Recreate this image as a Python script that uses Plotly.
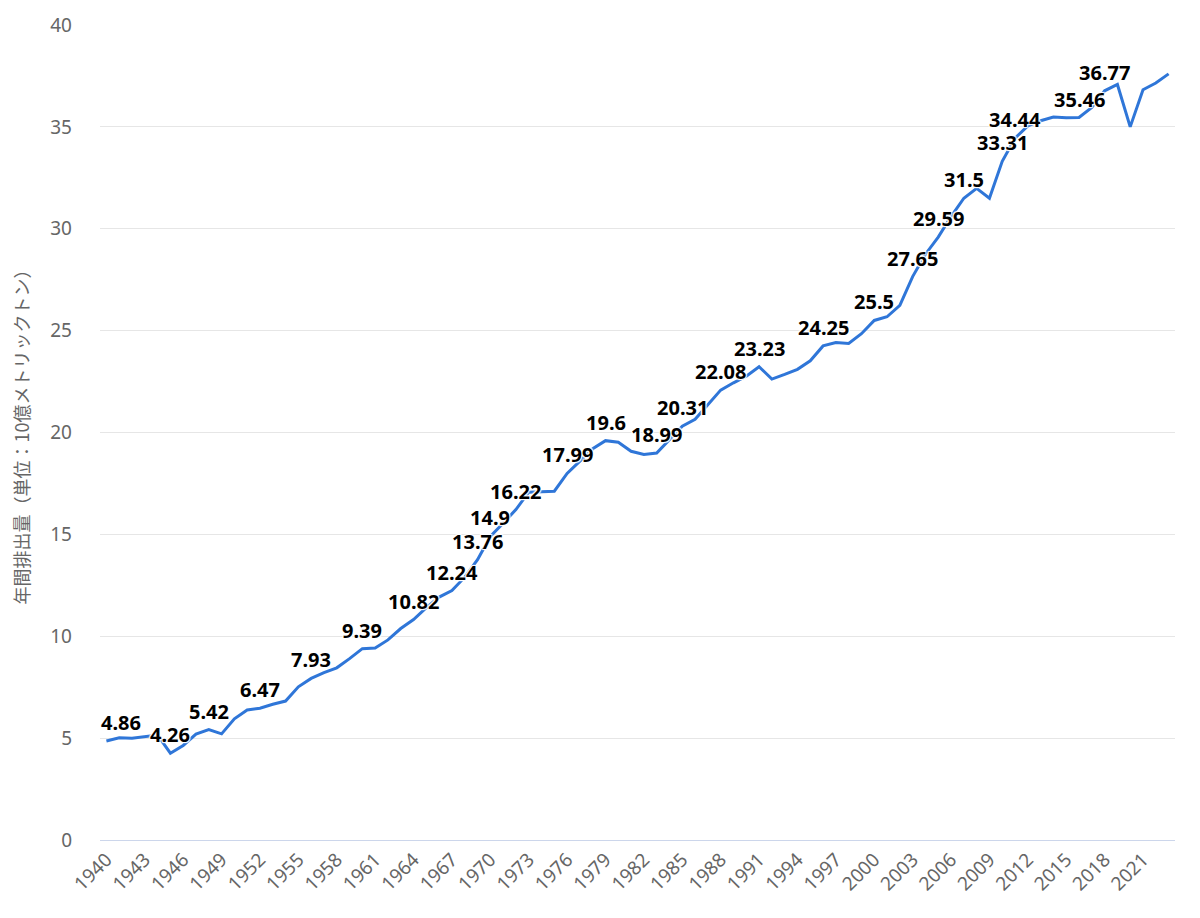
import plotly.graph_objects as go

# annual emissions, billion metric tonnes
YEARS = list(range(1940, 2024))
EMISSIONS = [
    4.86, 5.02, 5.00, 5.07, 5.15, 4.26, 4.64, 5.20, 5.42, 5.21,   # 1940-1949
    5.95, 6.38, 6.47, 6.66, 6.82, 7.52, 7.93, 8.21, 8.45, 8.90,   # 1950s
    9.39, 9.42, 9.82, 10.38, 10.82, 11.40, 11.92, 12.24, 12.90, 13.76,  # 1960s
    14.90, 15.55, 16.22, 17.07, 17.08, 17.12, 17.99, 18.62, 19.20, 19.60,  # 1970s
    19.52, 19.08, 18.92, 18.99, 19.65, 20.31, 20.65, 21.35, 22.08, 22.44,  # 1980s
    22.76, 23.23, 22.62, 22.85, 23.10, 23.52, 24.25, 24.42, 24.37, 24.85,  # 1990s
    25.50, 25.68, 26.24, 27.65, 28.75, 29.59, 30.60, 31.50, 31.98, 31.50,  # 2000s
    33.31, 34.44, 35.05, 35.30, 35.48, 35.45, 35.46, 35.95, 36.77, 37.08,  # 2010s
    35.00, 36.82, 37.15, 37.60,                                            # 2020s
]
LABELLED = [1940, 1945, 1948, 1952, 1956, 1960, 1964, 1967, 1969, 1970, 1972,
            1976, 1979, 1983, 1985, 1988, 1991, 1996, 2000, 2003, 2005, 2007,
            2010, 2011, 2016, 2018]
X_TICKS = list(range(1940, 2022, 3))
Y_TITLE = "年間排出量（単位：10億メトリックトン）"

white = "#ffffff"
outline = f"1px 1px 1px {white}, -1px -1px 1px {white}, 1px -1px 1px {white}, -1px 1px 1px {white}"

fig = go.Figure()
fig.add_trace(go.Scatter(
    x=YEARS, y=EMISSIONS, mode="lines",
    line=dict(color="#2f76d8", width=3),
    hoverinfo="x+y", showlegend=False))

# data labels above selected points; the first one is pushed inside the plot
for y, v in zip(YEARS, EMISSIONS):
    if y not in LABELLED:
        continue
    first = y == YEARS[0]
    fig.add_annotation(
        x=y, y=v, text=f"{v:g}", showarrow=False, borderpad=0,
        xanchor="left" if first else "center", xshift=-6 if first else 0,
        yanchor="bottom", yshift=4,
        font=dict(family="Noto Sans", size=20, color="#000000", weight="bold",
                  shadow=outline))

# page has an 8px body margin, so the figure is a little smaller than the window
fig.update_layout(
    width=1184, height=902,
    paper_bgcolor="white", plot_bgcolor="white",
    margin=dict(l=92, r=17, t=17, b=70),
    font=dict(family="Noto Sans", color="#666666"),
    xaxis=dict(range=[1939.5, 2023.5], tickmode="array", tickvals=X_TICKS,
               tickangle=-45, tickfont=dict(size=19, color="#666666"),
               showgrid=False, zeroline=False, showline=True, automargin=False,
               linecolor="#ccd6eb", linewidth=1, ticks=""),
    yaxis=dict(range=[0, 40], tickvals=[0, 5, 10, 15, 20, 25, 30, 35, 40],
               tickfont=dict(size=19, color="#666666"), automargin=False,
               gridcolor="#e6e6e6", gridwidth=1, zeroline=False,
               ticklabelstandoff=27,
               title=dict(text=Y_TITLE, standoff=20,
                          font=dict(family="Noto Sans CJK JP", size=18,
                                    color="#666666"))),
)

fig.write_html("out.html")
